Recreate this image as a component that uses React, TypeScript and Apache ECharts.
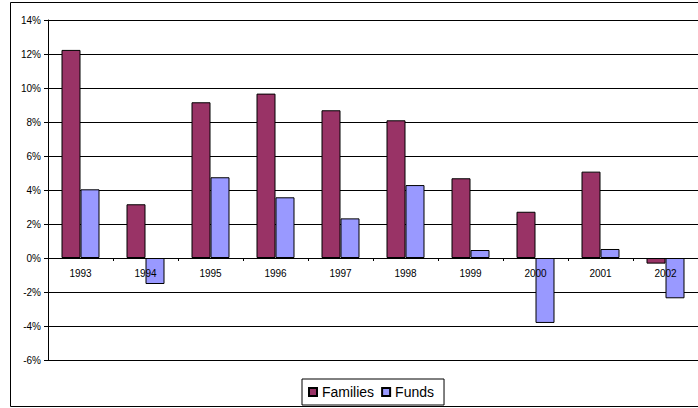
import React, { useEffect, useRef } from "react";
import * as echarts from "echarts";

const categories = ["1993", "1994", "1995", "1996", "1997", "1998", "1999", "2000", "2001", "2002"];
const families = [12.24, 3.16, 9.16, 9.67, 8.69, 8.1, 4.69, 2.72, 5.08, -0.33];
const funds = [4.04, -1.53, 4.75, 3.57, 2.33, 4.29, 0.47, -3.82, 0.53, -2.37];
const seriesNames = ["Families", "Funds"];

const FONT = "Liberation Sans, Arial, sans-serif";

export default function App() {
  const ref = useRef<HTMLDivElement>(null);
  useEffect(() => {
    if (!ref.current) return;
    const chart = echarts.init(ref.current, null, { renderer: "svg" });
    chart.setOption({
      animation: false,
      backgroundColor: "#ffffff",
      graphic: [
        {
          type: "rect",
          shape: { x: 10.5, y: 2.5, width: 700, height: 404 },
          style: { fill: "none", stroke: "#000", lineWidth: 1 },
          silent: true,
          z: 0,
        },
      ],
      grid: { left: 48, top: 20, width: 656, height: 340, containLabel: false },
      legend: {
        data: seriesNames,
        left: 302,
        top: 379,
        icon: "rect",
        itemWidth: 8,
        itemHeight: 8,
        itemGap: 7,
        padding: [6, 10, 6, 6],
        borderColor: "#000",
        borderWidth: 1,
        textStyle: { fontFamily: FONT, fontSize: 14, color: "#000" },
      },
      xAxis: {
        type: "category",
        data: categories,
        position: "bottom",
        offset: -102,
        z: 10,
        axisLine: { show: true, onZero: false, lineStyle: { color: "#000", width: 1 } },
        axisTick: { show: true, length: 3, alignWithLabel: false, lineStyle: { color: "#000" } },
        axisLabel: { fontFamily: FONT, fontSize: 10, color: "#000", margin: 10 },
        splitLine: { show: false },
      },
      yAxis: {
        type: "value",
        min: -6,
        max: 14,
        interval: 2,
        z: 0,
        axisLine: { show: true, lineStyle: { color: "#000", width: 1 } },
        axisTick: { show: true, length: 4, lineStyle: { color: "#000" } },
        axisLabel: { fontFamily: FONT, fontSize: 10, color: "#000", margin: 7, formatter: "{value}%" },
        splitLine: { show: true, lineStyle: { color: "#000", width: 1 } },
      },
      series: [
        {
          name: seriesNames[0],
          type: "bar",
          data: families,
          barWidth: 19,
          barGap: "0%",
          z: 3,
          itemStyle: { color: "#993366", borderColor: "#000", borderWidth: 1 },
        },
        {
          name: seriesNames[1],
          type: "bar",
          data: funds,
          barWidth: 19,
          barGap: "0%",
          z: 3,
          itemStyle: { color: "#9999ff", borderColor: "#000", borderWidth: 1 },
        },
      ],
    });
    return () => chart.dispose();
  }, []);
  return (
    <div
      ref={ref}
      style={{ position: "absolute", left: 0, top: 0, width: 698, height: 408 }}
    />
  );
}
